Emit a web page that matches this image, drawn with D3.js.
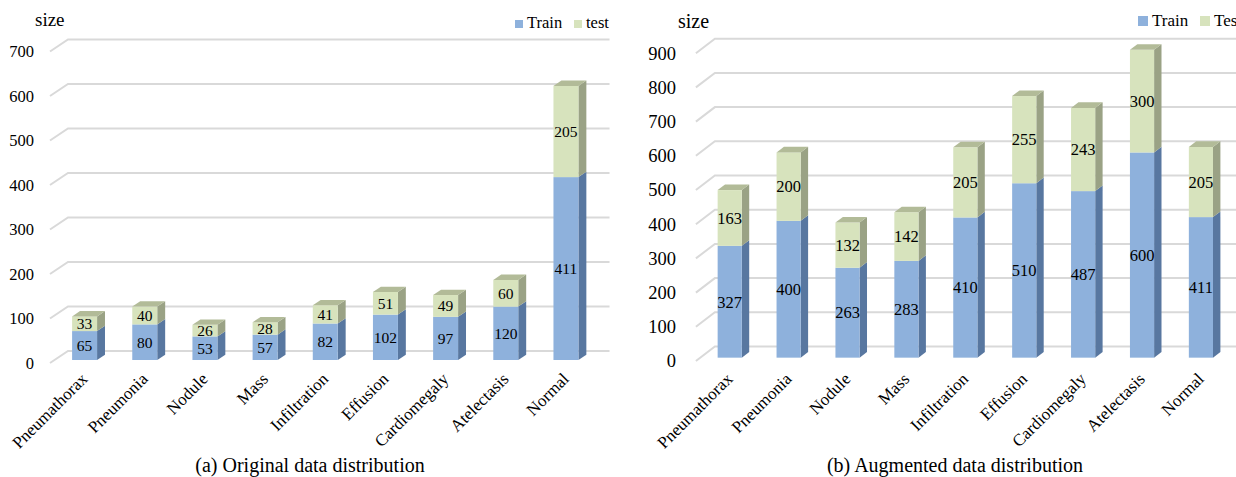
<!DOCTYPE html>
<html>
<head>
<meta charset="utf-8">
<script src="https://cdn.jsdelivr.net/npm/d3@7"></script>
<style>
  html, body { margin: 0; padding: 0; background: #fff; }
  svg { display: block; }
  text { font-family: "Liberation Serif", "Times New Roman", serif; fill: #000; }
</style>
</head>
<body>
<svg id="chart" width="1236" height="477"></svg>
<script>
// Disease categories shared by both panels
const categories = ["Pneumathorax", "Pneumonia", "Nodule", "Mass", "Infiltration",
                    "Effusion", "Cardiomegaly", "Atelectasis", "Normal"];

// (a) original distribution
const originalTrain = [65, 80, 53, 57, 82, 102, 97, 120, 411];
const originalTest  = [33, 40, 26, 28, 41, 51, 49, 60, 205];
const originalTicks = [0, 100, 200, 300, 400, 500, 600, 700];

// (b) augmented distribution
const augmentedTrain = [327, 400, 263, 283, 410, 510, 487, 600, 411];
const augmentedTest  = [163, 200, 132, 142, 205, 255, 243, 300, 205];
const augmentedTicks = [0, 100, 200, 300, 400, 500, 600, 700, 800, 900];

const seriesNames = ["Train", "test"];
const seriesNamesB = ["Train", "Test"];

const colors = {
  train: { front: "#8eb1dc", side: "#5877a0", top: "#7d9fca" },
  test:  { front: "#d7e3bd", side: "#9aa285", top: "#b2bb98" },
  grid: "#d9d9d9"
};

const svg = d3.select("#chart");

function drawPanel(opt) {
  const g = svg.append("g");
  const n = categories.length;
  const x = d3.scaleBand()
    .domain(categories)
    .range([opt.x0, opt.x0 + n * opt.step])
    .paddingInner(opt.pad)
    .paddingOuter(opt.pad / 2);
  const y = d3.scaleLinear()
    .domain([0, d3.max(opt.ticks)])
    .range([opt.y0, opt.yTop]);

  // offset of a point lying at depth d (0 = front, 1 = back wall)
  const off = d => [opt.wallDx * d, opt.wallDy * d];
  const [bx, by] = off(1);
  const xEnd = x.range()[1];

  // side-wall slants + back-wall gridlines
  g.append("g").selectAll("polyline")
    .data(opt.ticks)
    .join("polyline")
      .attr("points", v => [
        [opt.x0, y(v)], [opt.x0 + bx, y(v) + by], [xEnd + bx, y(v) + by]
      ].map(p => p.join(",")).join(" "))
      .attr("fill", "none")
      .attr("stroke", colors.grid)
      .attr("stroke-width", 2);

  // value axis labels
  g.append("g").selectAll("text")
    .data(opt.ticks)
    .join("text")
      .attr("x", opt.tickX)
      .attr("y", v => y(v))
      .attr("dy", "0.35em")
      .attr("text-anchor", "end")
      .style("font-size", opt.tickFont + "px")
      .text(d => d);

  // axis title
  g.append("text")
    .attr("x", opt.titleX)
    .attr("y", opt.titleY)
    .style("font-size", opt.titleFont + "px")
    .text("size");

  // stacked 3D columns
  const [fx, fy] = off(opt.barD0);
  const depth = opt.barD1 - opt.barD0;
  const ddx = opt.wallDx * depth, ddy = opt.wallDy * depth;
  const w = x.bandwidth();

  const rows = categories.map((c, i) => ({
    cat: c,
    segs: [
      { key: "train", lo: 0, hi: opt.train[i], v: opt.train[i] },
      { key: "test", lo: opt.train[i], hi: opt.train[i] + opt.test[i], v: opt.test[i] }
    ]
  }));

  const bars = g.append("g").selectAll("g")
    .data(rows)
    .join("g");

  bars.each(function(row) {
    const bg = d3.select(this);
    const left = x(row.cat) + fx;
    const right = left + w;
    row.segs.forEach((s, k) => {
      const yl = y(s.lo) + fy, yh = y(s.hi) + fy;
      const c = colors[s.key];
      // side face
      bg.append("polygon")
        .attr("points", [[right, yl], [right + ddx, yl + ddy], [right + ddx, yh + ddy], [right, yh]]
          .map(p => p.join(",")).join(" "))
        .attr("fill", c.side);
      // front face
      bg.append("rect")
        .attr("x", left).attr("y", yh)
        .attr("width", w).attr("height", yl - yh)
        .attr("fill", c.front);
      // top face only on the uppermost segment
      if (k === row.segs.length - 1) {
        bg.append("polygon")
          .attr("points", [[left, yh], [right, yh], [right + ddx, yh + ddy], [left + ddx, yh + ddy]]
            .map(p => p.join(",")).join(" "))
          .attr("fill", c.top);
      }
      // value label
      bg.append("text")
        .attr("x", left + w / 2)
        .attr("y", (yl + yh) / 2)
        .attr("dy", "0.35em")
        .attr("text-anchor", "middle")
        .style("font-size", opt.labelFont + "px")
        .text(s.v);
    });
  });

  // category labels
  g.append("g").selectAll("text")
    .data(categories)
    .join("text")
      .attr("text-anchor", "end")
      .attr("transform", d => `translate(${x(d) + fx + w / 2 + opt.catDx},${opt.catY}) rotate(-45)`)
      .style("font-size", opt.catFont + "px")
      .text(d => d);

  // legend
  const lg = g.append("g");
  opt.legend.forEach((item, i) => {
    lg.append("rect")
      .attr("x", item.x).attr("y", opt.legendY - opt.legendBox)
      .attr("width", opt.legendBox).attr("height", opt.legendBox)
      .attr("fill", colors[i === 0 ? "train" : "test"].front);
    lg.append("text")
      .attr("x", item.x + opt.legendBox + 4)
      .attr("y", opt.legendY)
      .style("font-size", opt.legendFont + "px")
      .text(item.name);
  });

  // caption
  g.append("text")
    .attr("x", opt.captionX)
    .attr("y", opt.captionY)
    .attr("text-anchor", "middle")
    .style("font-size", opt.captionFont + "px")
    .text(opt.caption);
}

drawPanel({
  train: originalTrain, test: originalTest, ticks: originalTicks,
  x0: 50, step: 60.17, pad: 0.585,
  y0: 363, yTop: 51.5,
  wallDx: 18, wallDy: -12, barD0: 0.25, barD1: 0.69,
  tickX: 34, tickFont: 16.5,
  titleX: 35, titleY: 26, titleFont: 19,
  labelFont: 15.5, catFont: 17, catDx: 4, catY: 380,
  legend: [{ name: seriesNames[0], x: 515 }, { name: seriesNames[1], x: 574 }],
  legendY: 28, legendBox: 8, legendFont: 16.5,
  caption: "(a) Original data distribution", captionX: 310, captionY: 472, captionFont: 20
});

drawPanel({
  train: augmentedTrain, test: augmentedTest, ticks: augmentedTicks,
  x0: 695.9, step: 58.9, pad: 0.59,
  y0: 361, yTop: 53.2,
  wallDx: 19, wallDy: -14.5, barD0: 0.23, barD1: 0.62,
  tickX: 676, tickFont: 18.5,
  titleX: 678, titleY: 28, titleFont: 20,
  labelFont: 16.5, catFont: 17, catDx: 4, catY: 380,
  legend: [{ name: seriesNamesB[0], x: 1138 }, { name: seriesNamesB[1], x: 1200 }],
  legendY: 26, legendBox: 10, legendFont: 17,
  caption: "(b) Augmented data distribution", captionX: 955, captionY: 472, captionFont: 20
});
</script>
</body>
</html>
